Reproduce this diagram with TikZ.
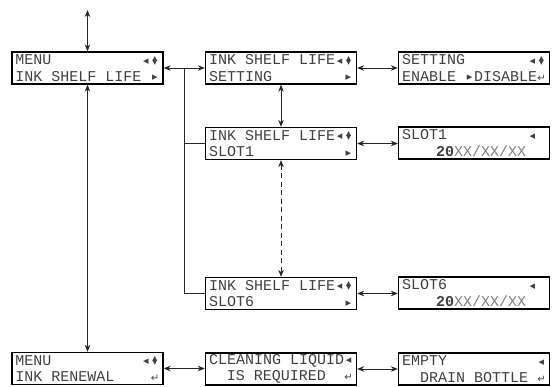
\documentclass[tikz,border=0pt]{standalone}
\usepackage{fontspec}
\usetikzlibrary{arrows.meta}
\newfontfamily\lcd[FakeStretch=1.0]{Liberation Mono}
\newfontfamily\symf{DejaVu Sans}
\newcommand\cellbox[1]{\makebox[9pt][c]{#1}}
\newcommand\lsym{\cellbox{\symf\fontsize{11}{11}\selectfont\raisebox{0.5pt}{◂}}}
\newcommand\rsym{\cellbox{\symf\fontsize{11}{11}\selectfont\raisebox{0.5pt}{▸}}}
\newcommand\udsym{\cellbox{\symf\fontsize{10}{10}\selectfont\ooalign{\raisebox{3.6pt}{▴}\cr\raisebox{-0.4pt}{▾}}}}
\newcommand\retsym{\cellbox{\symf\fontsize{10}{10}\selectfont ↵}}
\newcommand\lcdrow[2]{\makebox[144pt][l]{#1\hfill#2}}
\newcommand\dimtxt[1]{{\color{black!50}#1}}
\begin{document}
\begin{tikzpicture}[x=1pt,y=-1pt,
  lcdbox/.style={draw=black, line width=1.3pt, minimum width=151pt, minimum height=32pt,
    inner sep=0pt, font=\lcd\fontsize{15}{16.5}\selectfont, text=black!75, align=left},
  conn/.style={draw=black!85, line width=0.9pt},
  arr/.style={conn, {Stealth[length=7pt,width=5.5pt]}-{Stealth[length=7pt,width=5.5pt]}},
  dsh/.style={dash pattern=on 5pt off 3.5pt}]
\useasboundingbox (0,0) rectangle (552,387);

\node[lcdbox] (b1) at (87.5,68) {\lcdrow{MENU}{\lsym\udsym}\\\lcdrow{INK SHELF LIFE}{\rsym}};
\node[lcdbox] (b2) at (281,68) {\lcdrow{INK SHELF LIFE}{\lsym\udsym}\\\lcdrow{SETTING}{\rsym}};
\node[lcdbox] (b3) at (474,68) {\lcdrow{SETTING}{\lsym\udsym}\\\lcdrow{ENABLE \rsym DISABLE}{\retsym}};
\node[lcdbox] (b4) at (281,143.5) {\lcdrow{INK SHELF LIFE}{\lsym\udsym}\\\lcdrow{SLOT1}{\rsym}};
\node[lcdbox] (b5) at (474,143) {\lcdrow{SLOT1}{\lsym\cellbox{}}\\\lcdrow{\hspace*{34pt}\textbf{20}\dimtxt{XX/XX/XX}}{}};
\node[lcdbox] (b6) at (281,293.5) {\lcdrow{INK SHELF LIFE}{\lsym\udsym}\\\lcdrow{SLOT6}{\rsym}};
\node[lcdbox] (b7) at (474,293) {\lcdrow{SLOT6}{\lsym\cellbox{}}\\\lcdrow{\hspace*{34pt}\textbf{20}\dimtxt{XX/XX/XX}}{}};
\node[lcdbox] (b8) at (87.5,368.5) {\lcdrow{MENU}{\lsym\udsym}\\\lcdrow{INK RENEWAL}{\retsym}};
\node[lcdbox] (b9) at (281,369) {\lcdrow{CLEANING LIQUID}{\lsym}\\\lcdrow{\hfill IS REQUIRED}{\retsym}};
\node[lcdbox] (b10) at (474,369) {\lcdrow{EMPTY}{\lsym}\\\lcdrow{\hspace*{18pt}DRAIN BOTTLE}{\retsym}};

\coordinate (top) at (87.5,10);
\coordinate (j) at (184,68);

\draw[arr] (top) -- (b1.north);
\draw[arr] (b1.south) -- (b8.north);
\draw[arr] (b1.east) -- (b2.west);
\draw[conn] (j) |- (b6.west);
\draw[conn] (b4.west -| j) -- (b4.west);
\draw[arr] (b2.east) -- (b3.west);
\draw[arr] (b2.south) -- (b4.north);
\draw[arr] (b4.east) -- (b4.east -| b5.west);
\draw[arr, dsh] (b4.south) -- (b6.north);
\draw[arr] (b6.east) -- (b6.east -| b7.west);
\draw[arr] (b8.east) -- (b8.east -| b9.west);
\draw[arr] (b9.east) -- (b10.west);
\end{tikzpicture}
\end{document}
